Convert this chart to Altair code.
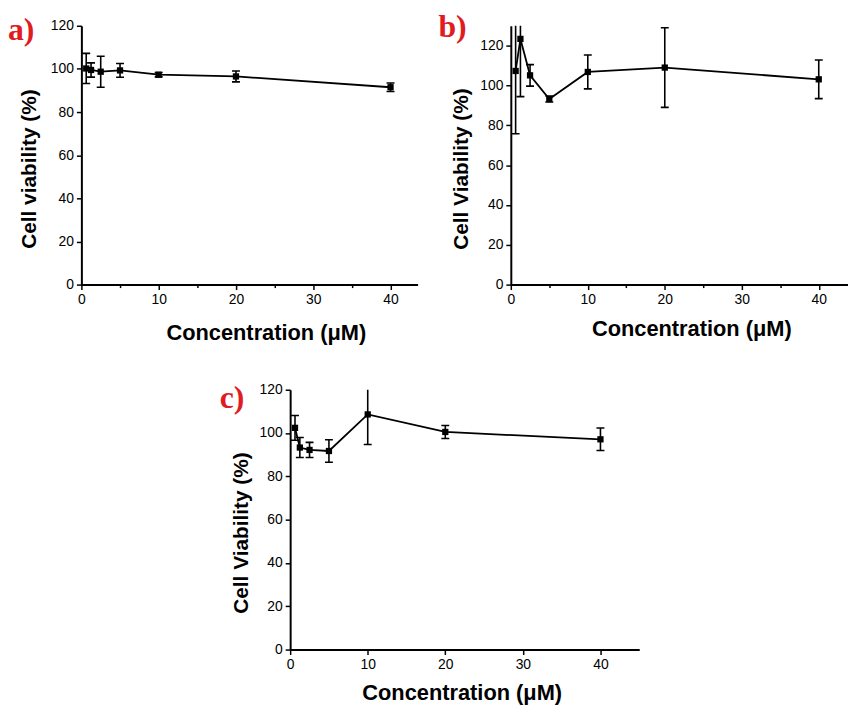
import altair as alt
import pandas as pd

conc = [0.625, 1.25, 2.5, 5, 10, 20, 40]

a_mean = [100.2, 99.5, 98.7, 99.3, 97.3, 96.5, 91.5]
a_err = [7.0, 3.3, 7.2, 3.2, 1.0, 2.5, 2.0]

b_mean = [107.3, 123.4, 105.1, 93.2, 106.8, 109.0, 103.1]
b_err = [31.5, 29.0, 5.4, 1.5, 8.5, 20.0, 9.7]

c_mean = [102.4, 93.3, 92.2, 91.7, 108.6, 100.5, 97.1]
c_err = [5.7, 4.6, 3.5, 5.2, 13.9, 3.0, 5.2]

labels = ["a)", "b)", "c)"]
x_title = "Concentration (μM)"
y_titles = ["Cell viability (%)", "Cell Viability (%)", "Cell Viability (%)"]

RED = "#e01b22"
SANS = "Liberation Sans"


def panel(mean, err, label, ytitle, xmax, xticks_max, ymax, w, h,
          lab_dx, lab_dy, ytx, yty, xtx, xty):
    df = pd.DataFrame({
        "conc": conc,
        "mean": mean,
        "lo": [m - e for m, e in zip(mean, err)],
        "hi": [m + e for m, e in zip(mean, err)],
    })
    xaxis = alt.Axis(
        values=list(range(0, xticks_max + 1, 5)),
        labelExpr="datum.value % 10 == 0 ? datum.label : ''",
        tickSize={"condition": {"test": "datum.value % 10 != 0", "value": 3}, "value": 5},
        labelOverlap=False, labelFlush=False, grid=False,
        title=x_title, titleX=xtx, titleY=xty, titleBaseline="middle",
        titleAlign="center", titleFontSize=22,
    )
    yaxis = alt.Axis(
        values=list(range(0, ymax + 1, 10)),
        labelExpr="datum.value % 20 == 0 ? datum.label : ''",
        tickSize={"condition": {"test": "datum.value % 20 != 0", "value": 3}, "value": 5},
        labelOverlap=False, labelFlush=False, grid=False,
        title=ytitle, titleX=ytx, titleY=yty, titleBaseline="middle",
        titleAlign="center", titleFontSize=21,
    )
    xs = alt.Scale(domain=[0, xmax], nice=False, zero=True)
    ys = alt.Scale(domain=[0, ymax], nice=False, zero=True)
    base = alt.Chart(df)
    line = base.mark_line(color="black", strokeWidth=1.8).encode(
        x=alt.X("conc:Q", scale=xs, axis=xaxis),
        y=alt.Y("mean:Q", scale=ys, axis=yaxis),
    )
    rule = base.mark_rule(color="black", strokeWidth=1.6, clip=True).encode(
        x="conc:Q", y="lo:Q", y2="hi:Q"
    )
    cap_lo = base.mark_tick(color="black", orient="horizontal", size=8,
                            thickness=1.6, opacity=1, clip=True).encode(
        x="conc:Q", y="lo:Q"
    )
    cap_hi = base.mark_tick(color="black", orient="horizontal", size=8,
                            thickness=1.6, opacity=1, clip=True).encode(
        x="conc:Q", y="hi:Q"
    )
    pts = base.mark_square(color="black", size=40, opacity=1).encode(
        x="conc:Q", y="mean:Q"
    )
    lab = alt.Chart(pd.DataFrame({"t": [label]})).mark_text(
        align="left", baseline="middle", font="Liberation Serif",
        fontWeight="bold", fontSize=32, color=RED
    ).encode(x=alt.value(lab_dx), y=alt.value(lab_dy), text="t:N")
    return alt.layer(line, rule, cap_lo, cap_hi, pts, lab).properties(
        width=w, height=h
    )


pa = panel(a_mean, a_err, labels[0], y_titles[0], 43.5, 40, 120, 339, 261,
           -74, 4, -52, 144, 186, 48)
pb = panel(b_mean, b_err, labels[1], y_titles[1], 43.8, 40, 130, 340, 261,
           -73, 1, -50, 144, 182, 44)
pc = panel(c_mean, c_err, labels[2], y_titles[2], 45, 45, 120, 352, 262,
           -71, 8, -49, 144, 173, 43)

top = alt.hconcat(pa, pb, spacing=21)
chart = alt.vconcat(top, pc, spacing=39, center=True).properties(
    padding={"left": 0, "top": 0, "right": 0, "bottom": 0}
).configure_view(stroke=None).configure_axis(
    labelFont=SANS, labelFontSize=14, labelColor="black",
    titleFont=SANS, titleFontSize=18, titleFontWeight="bold", titleColor="black",
    domainColor="black", domainWidth=2, tickColor="black", tickWidth=1.5,
    labelPadding=3,
)

chart.save("out.html", embed_options={"renderer": "svg", "actions": False})
